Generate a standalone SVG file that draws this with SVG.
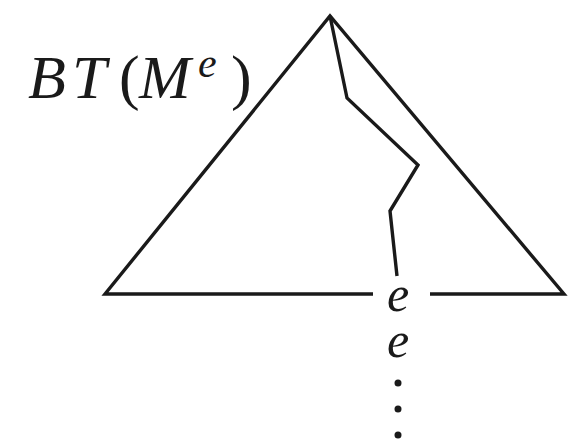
<svg xmlns="http://www.w3.org/2000/svg" width="577" height="439" viewBox="0 0 577 439">
<style>
.ln{fill:none;stroke:#1a1a1a;stroke-width:3.4;stroke-linejoin:miter;stroke-linecap:butt}
.t{font-family:"Liberation Serif","Times New Roman",serif;fill:#1a1a1a}
.i{font-style:italic}
</style>
<rect width="577" height="439" fill="#fff"/>
<g id="tree">
<polyline class="ln" points="373,294 105,294 330,16 564,294 430,294"/>
</g>
<g id="connectors">
<polyline class="ln" points="330,16 347,98 418,165 390,211 397,276"/>
</g>
<g id="label">
<text class="t" font-size="62" y="98"><tspan class="i" x="28">B</tspan><tspan class="i" x="72">T</tspan><tspan x="119">(</tspan><tspan class="i" x="139">M</tspan><tspan x="231">)</tspan></text>
<text class="t i" font-size="42" x="198" y="77">e</text>
</g>
<g id="e1"><text class="t i" font-size="50" x="398" y="311" text-anchor="middle">e</text></g>
<g id="e2"><text class="t i" font-size="50" x="398" y="357" text-anchor="middle">e</text></g>
<g id="dots" fill="#1a1a1a">
<circle cx="398" cy="383" r="3.5"/>
<circle cx="398" cy="409" r="3.5"/>
<circle cx="398" cy="435" r="3.5"/>
</g>
</svg>
